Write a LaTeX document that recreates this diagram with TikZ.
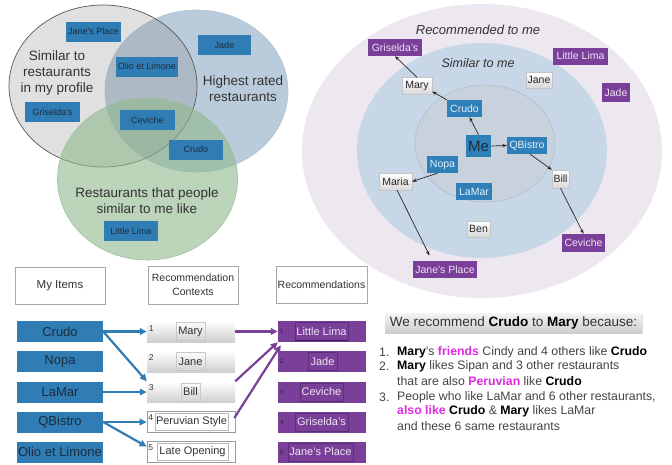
\documentclass[tikz,border=0pt]{standalone}
\usepackage{fontspec}
\setmainfont{Liberation Sans}
\usetikzlibrary{arrows.meta,shadows,calc}
\definecolor{vblue}{HTML}{2F7DB4}
\definecolor{vdark}{HTML}{1C2C3C}
\definecolor{txtgrey}{HTML}{333333}
\definecolor{cAfill}{HTML}{888888}
\definecolor{cAdraw}{HTML}{585858}
\definecolor{cBfill}{HTML}{A9C0D3}
\definecolor{cBdraw}{HTML}{AFC3D3}
\definecolor{cCfill}{HTML}{8FB88C}
\definecolor{cCdraw}{HTML}{9FBF9C}
\definecolor{outerfill}{HTML}{EDE8F0}
\definecolor{midfill}{HTML}{C7D7E7}
\definecolor{innerfill}{HTML}{C8D2DC}
\definecolor{innerdraw}{HTML}{AEBCC9}
\definecolor{rbluefill}{HTML}{2F80B8}
\definecolor{rbluetext}{HTML}{E4EEF7}
\definecolor{purp}{HTML}{7A3F99}
\definecolor{purtext}{HTML}{EEE4F3}
\definecolor{purline}{HTML}{5E2C78}
\definecolor{purnum}{HTML}{3B1A4C}
\definecolor{wshade}{HTML}{D8D8D8}
\definecolor{wborder}{HTML}{C4C4C4}
\definecolor{hdrborder}{HTML}{A8A8A8}
\definecolor{ctxgrey}{HTML}{CFCFCF}
\definecolor{ctxborder}{HTML}{9A9A9A}
\definecolor{subline}{HTML}{C8C8C8}
\definecolor{ablue}{HTML}{2F7DB4}
\definecolor{apurp}{HTML}{7A3F99}
\definecolor{mgnt}{HTML}{E02BE0}
\definecolor{listgrey}{HTML}{444444}
\definecolor{titletop}{HTML}{F4F4F4}
\definecolor{titlebot}{HTML}{CDCDCD}
\newcommand\fsz[2]{\fontsize{#1}{#2}\selectfont}
\newcommand\bkw[1]{\textbf{\color{black}#1}}
\newcommand\mgw[1]{\textbf{\color{mgnt}#1}}
\tikzset{
  bx/.style 2 args={inner sep=0pt, minimum width=#1, minimum height=#2},
  vtxt/.style={font=\fsz{13.5}{16}, text=txtgrey, align=center},
  vbx/.style={fill=vblue, text=vdark, inner sep=0pt, minimum height=20, font=\fsz{9}{10}},
  rbx/.style={fill=rbluefill, text=rbluetext, inner sep=0pt, minimum height=17, font=\fsz{10.5}{12}},
  rpx/.style={fill=purp, text=purtext, inner sep=0pt, minimum height=17, font=\fsz{10.5}{12}},
  rwx/.style={top color=white, bottom color=wshade, draw=wborder, line width=0.4pt, text=black!85,
     inner sep=0pt, minimum height=17, font=\fsz{10.5}{12},
     drop shadow={shadow xshift=0.8pt, shadow yshift=-0.8pt, opacity=0.25}},
  thinarr/.style={-{Stealth[length=4.5pt,width=3.5pt]}, line width=0.7pt, draw=black!85},
  hdr/.style={draw=hdrborder, line width=1pt, fill=white, text=txtgrey, align=center},
  itm/.style={fill=vblue, text=vdark, bx={86}{21}, font=\fsz{13}{15}},
  ctx/.style={top color=white, bottom color=ctxgrey, bx={88}{21}},
  ctxw/.style={fill=white, draw=ctxborder, line width=0.6pt, bx={88}{21}},
  sub/.style={draw=subline, line width=0.4pt, inner sep=0pt, minimum height=18, text=black!80, font=\fsz{11}{13}},
  numl/.style={inner sep=0pt, font=\fsz{8.5}{9}, text=black!80},
  recx/.style={fill=purp, bx={88}{21}},
  rsub/.style={draw=purline, line width=0.4pt, inner sep=0pt, minimum height=18, text=purtext, font=\fsz{11}{13}},
  rnum/.style={inner sep=0pt, font=\fsz{6.5}{7}, text=purnum},
  barr/.style={-{Triangle[length=7pt,width=6.5pt]}, line width=2.2pt, draw=ablue},
  parr/.style={-{Triangle[length=7pt,width=6.5pt]}, line width=2.2pt, draw=apurp},
  lst/.style={anchor=west, inner sep=0pt, font=\fsz{12.3}{14}, text=listgrey},
}
\begin{document}
\begin{tikzpicture}[x=1pt,y=-1pt]
\useasboundingbox (0,0) rectangle (672,464);
\fill[white] (0,0) rectangle (672,464);

% ---------------- Venn diagram ----------------
\draw[draw=cBdraw, line width=0.6pt, fill=cBfill, fill opacity=0.8] (196.5,91) ellipse [x radius=91.5pt, y radius=81pt];
\draw[draw=cAdraw, line width=0.7pt, fill=cAfill, fill opacity=0.26] (103,86) ellipse [x radius=94pt, y radius=81pt];
\draw[draw=cCdraw, line width=0.6pt, fill=cCfill, fill opacity=0.6] (147.5,179) ellipse [x radius=90pt, y radius=81pt];

\node[vtxt] (vt1) at (57,73) {Similar to\\restaurants\\in my profile};
\node[vtxt] (vt2) at (243,88.5) {Highest rated\\restaurants};
\node[vtxt] (vt3) at (147,201) {Restaurants that people\\similar to me like};

\node[vbx, minimum width=55] (vJP) at (93.5,31.5) {Jane's Place};
\node[vbx, minimum width=53] (vJade) at (224.5,45) {Jade};
\node[vbx, minimum width=62] (vOlio) at (147,66.5) {Olio et Limone};
\node[vbx, minimum width=55] (vGris) at (52.5,112) {Griselda's};
\node[vbx, minimum width=55] (vCev) at (147.5,120) {Ceviche};
\node[vbx, minimum width=54] (vCrudo) at (196,149.5) {Crudo};
\node[vbx, minimum width=54] (vLL) at (131,231) {Little Lima};

% ---------------- Nested ellipses ----------------
\fill[outerfill] (482,151) ellipse [x radius=180pt, y radius=147pt];
\fill[midfill] (482,150.5) ellipse [x radius=125pt, y radius=107.5pt];
\draw[draw=innerdraw, line width=0.5pt, fill=innerfill] (485,143.5) ellipse [x radius=70pt, y radius=58.5pt];

\node[font=\fsz{13}{15}\itshape, text=txtgrey, inner sep=0pt] (lRec) at (478,30) {Recommended to me};
\node[font=\fsz{12.5}{15}\itshape, text=txtgrey, inner sep=0pt] (lSim) at (478,63) {Similar to me};

\node[rpx, minimum width=54] (rGris) at (395,47.5) {Griselda's};
\node[rpx, minimum width=55] (rLL) at (580.5,56) {Little Lima};
\node[rpx, minimum width=28, minimum height=19] (rJade) at (616,92.5) {Jade};
\node[rwx, minimum width=30] (rMary) at (417,86) {Mary};
\node[rwx, minimum width=26, minimum height=16] (rJane) at (539,80) {Jane};
\node[rbx, minimum width=35] (rCrudo) at (464.5,108.5) {Crudo};
\node[rbx, minimum width=25, minimum height=22, text=vdark, font=\fsz{15}{16}] (rMe) at (478.5,146) {Me};
\node[rbx, minimum width=40] (rQB) at (527,145.5) {QBistro};
\node[rbx, minimum width=31] (rNopa) at (442.5,164.5) {Nopa};
\node[rwx, minimum width=33] (rMaria) at (395.5,181.5) {Maria};
\node[rbx, minimum width=36] (rLaMar) at (474,191.5) {LaMar};
\node[rwx, minimum width=17, minimum height=18] (rBill) at (560.5,179) {Bill};
\node[rwx, minimum width=23, minimum height=16] (rBen) at (478.5,229) {Ben};
\node[rpx, minimum width=43, minimum height=18] (rCev) at (583.5,243) {Ceviche};
\node[rpx, minimum width=64] (rJP) at (445,269.5) {Jane's Place};

\draw[thinarr] (rMe.north) -- (rCrudo.-60);
\draw[thinarr] (rCrudo.north west) -- (rMary.-20);
\draw[thinarr] (rMary.north) -- (rGris.south);
\draw[thinarr] (rMe.east) -- (rQB.west);
\draw[thinarr] (rQB.-70) -- (rBill.north west);
\draw[thinarr] (rBill.south) -- (rCev.north);
\draw[thinarr] (rNopa.-120) -- (rMaria.east);
\draw[thinarr, shorten >=6pt] (rMaria.-80) -- ($(rJP.north west)!0.3!(rJP.north east)$);

% ---------------- Bottom left table ----------------
\node[hdr, bx={90}{37}, font=\fsz{11.5}{14}] (hItems) at (60,285.5) {My Items};
\node[hdr, bx={90}{38}, font=\fsz{10.5}{14}] (hCtx) at (193,285) {Recommendation\\Contexts};
\node[hdr, bx={91}{37}, font=\fsz{10.5}{13}] (hRec) at (321.5,284.5) {Recommendations};

\node[itm] (iCrudo) at (60,331.5) {Crudo};
\node[itm] (iNopa) at (60,361.5) {Nopa};
\node[itm] (iLaMar) at (60,392) {LaMar};
\node[itm] (iQB) at (60,422) {QBistro};
\node[itm] (iOlio) at (60,452) {Olio et Limone};

\node[ctx] (c1) at (191,331.5) {};
\node[ctx] (c2) at (191,361.5) {};
\node[ctx] (c3) at (191,392) {};
\node[ctxw] (c4) at (191,422) {};
\node[ctxw] (c5) at (191,452) {};
\node[sub, minimum width=29] (c1t) at (190.5,331.5) {Mary};
\node[sub, minimum width=29] (c2t) at (190.5,361.5) {Jane};
\node[sub, minimum width=19] (c3t) at (190.5,392) {Bill};
\node[sub, minimum width=73, minimum height=17, fill=white, draw=ctxborder!70] (c4t) at (191.5,422) {Peruvian Style};
\node[sub, minimum width=71, minimum height=17, fill=white, draw=ctxborder!70] (c5t) at (192.5,452) {Late Opening};
\node[numl] (c1n) at ($(c1.north west)+(4.5,7.5)$) {1};
\node[numl] (c2n) at ($(c2.north west)+(4.5,7)$) {2};
\node[numl] (c3n) at ($(c3.north west)+(4.5,6.5)$) {3};
\node[numl] (c4n) at ($(c4.north west)+(4,6)$) {4};
\node[numl] (c5n) at ($(c5.north west)+(4,6)$) {5};

\node[recx] (r1) at (322,331.5) {};
\node[recx] (r2) at (322,361.5) {};
\node[recx] (r3) at (322,392) {};
\node[recx] (r4) at (322,422) {};
\node[recx] (r5) at (322,452) {};
\node[rsub, minimum width=53] (r1t) at (321.5,331.5) {Little Lima};
\node[rsub, minimum width=29] (r2t) at (322.5,361.5) {Jade};
\node[rsub, minimum width=43] (r3t) at (321.5,392) {Ceviche};
\node[rsub, minimum width=53] (r4t) at (321.5,422) {Griselda's};
\node[rsub, minimum width=65] (r5t) at (320.5,452) {Jane's Place};
\draw[purnum, line width=0.9pt] (r1t.south west) -- (r1t.south east);
\node[rnum] (r1n) at ($(r1.west)+(4,0)$) {1};
\node[rnum] (r2n) at ($(r2.west)+(4,0)$) {2};
\node[rnum] (r3n) at ($(r3.west)+(4,0)$) {3};
\node[rnum] (r4n) at ($(r4.west)+(4,0)$) {4};
\node[rnum] (r5n) at ($(r5.west)+(4,0)$) {5};

\draw[barr] (iCrudo.east) -- (c1.west);
\draw[barr] (iCrudo.east) -- (c3.north west);
\draw[barr] (iLaMar.east) -- (c3.west);
\draw[barr] (iQB.east) -- (c4.west);
\draw[barr] (iQB.east) -- ($(c5.north west)!0.25!(c5.south west)$);
\draw[parr] (c1.east) -- (r1.west);
\draw[parr] (c3.north east) -- (r1.south west);
\draw[parr] ($(c4.east)+(-1,-4)$) -- ($(r1.south west)+(3,3)$);

% ---------------- Explanation text ----------------
\node[top color=titletop, bottom color=titlebot, bx={257}{20}, text=txtgrey, font=\fsz{13.5}{15},
  drop shadow={shadow xshift=0.8pt, shadow yshift=-1pt, opacity=0.25}] (title) at (513.5,323)
  {We recommend \bkw{Crudo} to \bkw{Mary} because:};

\node[lst] (n1) at (379,352) {1.};
\node[lst] (l1) at (397,352) {\bkw{Mary}'s \mgw{friends} Cindy and 4 others like \bkw{Crudo}};
\node[lst] (n2) at (379,366.5) {2.};
\node[lst] (l2) at (397,366.5) {\bkw{Mary} likes Sipan and 3 other restaurants};
\node[lst] (l2b) at (397,381.5) {that are also \mgw{Peruvian} like \bkw{Crudo}};
\node[lst] (n3) at (379,397) {3.};
\node[lst] (l3) at (397,397) {People who like LaMar and 6 other restaurants,};
\node[lst] (l3b) at (397,411.5) {\mgw{also like} \bkw{Crudo} \& \bkw{Mary} likes LaMar};
\node[lst] (l3c) at (397,426.5) {and these 6 same restaurants};
\end{tikzpicture}
\end{document}
